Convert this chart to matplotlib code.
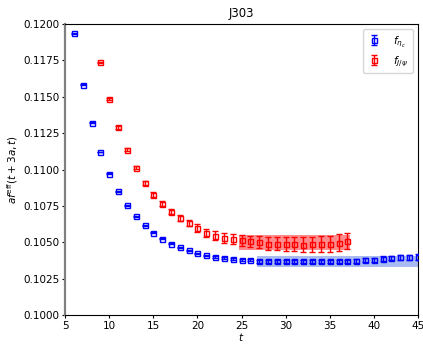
import numpy as np
import matplotlib
matplotlib.use("Agg")
import matplotlib.pyplot as plt

# effective decay-constant data, J303 ensemble
t_etac = np.arange(6, 46)
f_etac = [0.11938, 0.11582, 0.11321, 0.11121, 0.10973, 0.10851, 0.10755, 0.10679,
          0.10617, 0.10567, 0.10526, 0.10491, 0.10466, 0.10445, 0.10424, 0.10411,
          0.10399, 0.10394, 0.10383, 0.10381, 0.10376, 0.10369, 0.10369, 0.10369,
          0.10369, 0.10369, 0.10369, 0.10369, 0.10369, 0.10369, 0.10369, 0.10369,
          0.10372, 0.10376, 0.10381, 0.10388, 0.10392, 0.10397, 0.10397, 0.10399]
e_etac = [0.00003, 0.00003, 0.00003, 0.00003, 0.00003, 0.00003, 0.00003, 0.00003,
          0.00003, 0.00004, 0.00004, 0.00004, 0.00004, 0.00005, 0.00005, 0.00005,
          0.00006, 0.00006, 0.00006, 0.00007, 0.00007, 0.00008, 0.00008, 0.00008,
          0.00009, 0.00009, 0.00010, 0.00010, 0.00011, 0.00011, 0.00012, 0.00012,
          0.00013, 0.00013, 0.00014, 0.00015, 0.00016, 0.00017, 0.00018, 0.00019]

t_jpsi = np.arange(9, 38)
f_jpsi = [0.11737, 0.11484, 0.11291, 0.11138, 0.11013, 0.10908, 0.10828, 0.10766,
          0.10711, 0.10667, 0.10633, 0.10599, 0.10567, 0.10546, 0.10530, 0.10521,
          0.10514, 0.10507, 0.10502, 0.10490, 0.10490, 0.10490, 0.10490, 0.10484,
          0.10486, 0.10491, 0.10491, 0.10498, 0.10509]
e_jpsi = [0.00005, 0.00007, 0.00009, 0.00010, 0.00012, 0.00013, 0.00015, 0.00017,
          0.00019, 0.00021, 0.00023, 0.00025, 0.00027, 0.00030, 0.00032, 0.00034,
          0.00036, 0.00039, 0.00041, 0.00044, 0.00046, 0.00048, 0.00050, 0.00052,
          0.00054, 0.00055, 0.00056, 0.00057, 0.00058]

# plateau fits: (t_min, t_max, value, error)
fit_etac = (27, 45, 0.10369, 0.00035)
fit_jpsi = (25, 37, 0.10500, 0.00050)

fig = plt.figure(figsize=(4.23, 3.44), dpi=100)
ax = fig.add_axes([0.154, 0.084, 0.834, 0.846])

fs = 7.5
for (t0, t1, v, e), col in [(fit_etac, "royalblue"), (fit_jpsi, "red")]:
    ax.fill_between([t0 - 0.3, t1 + 0.3], v - e, v + e, color=col,
                    alpha=0.45, linewidth=0, zorder=1)

ax.errorbar(t_etac, f_etac, yerr=e_etac, fmt="s", color="blue", mfc="none",
            markersize=3.6, capsize=2, elinewidth=1, markeredgewidth=1,
            label=r"$f_{\eta_c}$", zorder=3)
ax.errorbar(t_jpsi, f_jpsi, yerr=e_jpsi, fmt="s", color="red", mfc="none",
            markersize=3.6, capsize=2, elinewidth=1, markeredgewidth=1,
            label=r"$f_{J/\psi}$", zorder=3)

ax.set_xlim(5, 45)
ax.set_ylim(0.1, 0.12)
ax.set_xticks(np.arange(5, 46, 5))
ax.set_yticks(np.arange(0.1, 0.12001, 0.0025))
ax.yaxis.set_major_formatter(matplotlib.ticker.FormatStrFormatter("%.4f"))
ax.tick_params(labelsize=fs, length=2.5, pad=1.5)
ax.set_xlabel(r"$t$", fontsize=fs, labelpad=0)
ax.set_ylabel(r"$af^{\rm eff}(t+3a,t)$", fontsize=fs, labelpad=2)
ax.set_title("J303", fontsize=8.5, pad=5)
ax.spines["left"].set_color("gray")
ax.spines["left"].set_linewidth(1.6)

ax.legend(loc="upper right", fontsize=7.5, handlelength=1.2,
          borderpad=0.45, labelspacing=0.5, handletextpad=1.2)

fig.savefig("out.png", dpi=100)
